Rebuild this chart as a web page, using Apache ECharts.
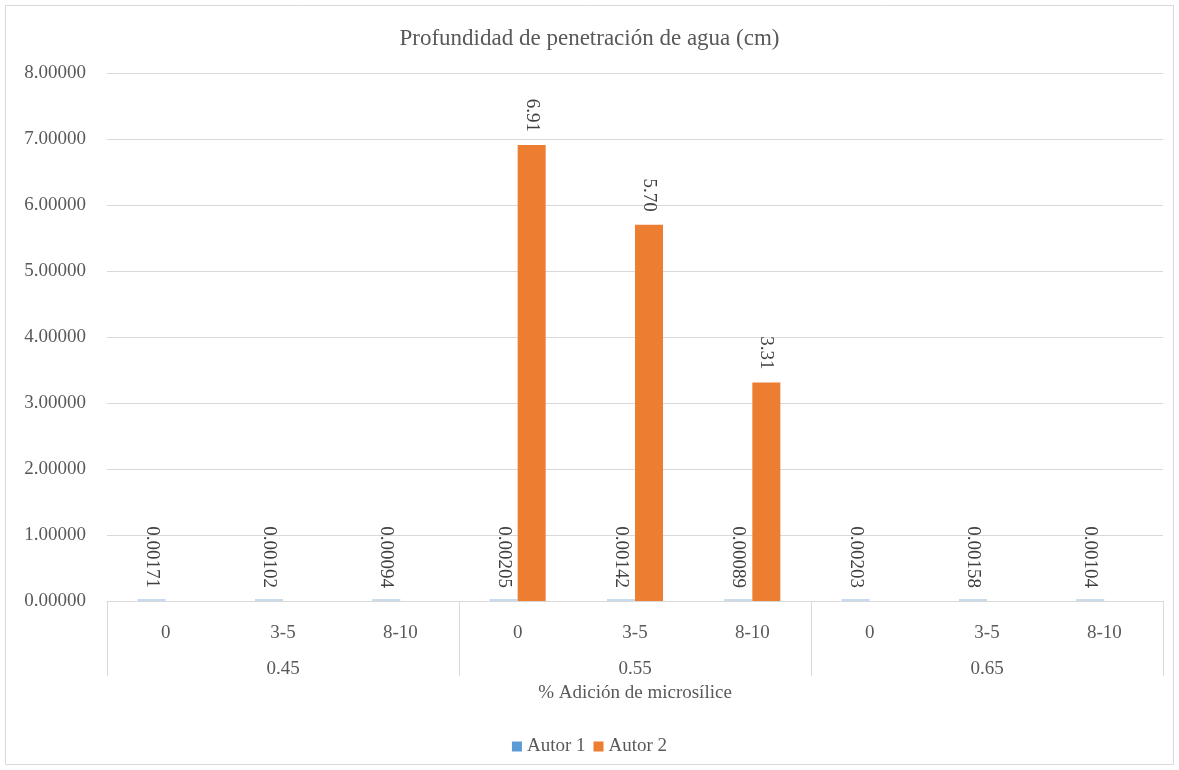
<!DOCTYPE html>
<html>
<head>
<meta charset="utf-8">
<script src="https://cdn.jsdelivr.net/npm/echarts@6/dist/echarts.min.js"></script>
<style>
html,body{margin:0;padding:0;background:#fff;}
#chart{width:1179px;height:770px;}
</style>
</head>
<body>
<div id="chart"></div>
<script>
const subCategories = ['0','3-5','8-10','0','3-5','8-10','0','3-5','8-10'];
const groupCategories = ['0.45','0.55','0.65'];
const autor1 = [0.00171,0.00102,0.00094,0.00205,0.00142,0.00089,0.00203,0.00158,0.00104];
const autor2 = [null,null,null,6.91,5.70,3.31,null,null,null];
const yTicks = {min:0,max:8,interval:1};

const font = 'Liberation Serif';
const txt = '#595959';
const fs = 19;
const chart = echarts.init(document.getElementById('chart'));
chart.setOption({
  animation:false,
  textStyle:{fontFamily:font},
  title:{text:'Profundidad de penetración de agua (cm)',left:'center',top:22,
    textStyle:{fontFamily:font,fontSize:23,fontWeight:'normal',color:txt}},
  graphic:[{type:'rect',shape:{x:5.5,y:5.5,width:1168,height:759},
    style:{fill:'none',stroke:'#d9d9d9',lineWidth:1},silent:true}],
  legend:{bottom:9,left:'center',icon:'rect',itemWidth:10,itemHeight:10,itemGap:8,
    textStyle:{fontFamily:font,fontSize:fs,color:txt},
    data:[{name:'Autor 1',itemStyle:{color:'#5B9BD5'}},{name:'Autor 2'}]},
  grid:{left:107,right:16,top:73,bottom:169},
  xAxis:[{
    type:'category',data:subCategories,position:'bottom',
    axisLine:{lineStyle:{color:'#d9d9d9'}},
    axisTick:{show:true,length:75,interval:function(i){return i%3===0;},lineStyle:{color:'#d9d9d9'}},
    axisLabel:{interval:0,color:txt,fontSize:fs,fontFamily:font,margin:23}
  },{
    type:'category',data:groupCategories,position:'bottom',offset:51,
    axisLine:{show:false},axisTick:{show:false},
    axisLabel:{interval:0,color:txt,fontSize:fs,fontFamily:font,margin:8},
    name:'% Adición de microsílice',nameLocation:'middle',nameGap:32,
    nameTextStyle:{color:txt,fontSize:fs,fontFamily:font}
  }],
  yAxis:{type:'value',min:yTicks.min,max:yTicks.max,interval:yTicks.interval,
    axisLine:{show:false},axisTick:{show:false},
    splitLine:{lineStyle:{color:'#d9d9d9'}},
    axisLabel:{color:txt,fontSize:fs,fontFamily:font,margin:21,formatter:function(v){return v.toFixed(5);}}},
  series:[{
    name:'Autor 1',type:'bar',data:autor1,xAxisIndex:0,barWidth:28,barGap:'0%',barMinHeight:2,
    itemStyle:{color:'#C8DAEE'},
    label:{show:true,position:'top',rotate:-90,align:'right',verticalAlign:'middle',distance:11,
      color:'#404040',fontSize:fs,fontFamily:font,formatter:function(p){return p.value.toFixed(5);}}
  },{
    name:'Autor 2',type:'bar',data:autor2,xAxisIndex:0,barWidth:28,barGap:'0%',
    itemStyle:{color:'#ED7D31'},
    label:{show:true,position:'top',rotate:-90,align:'right',verticalAlign:'middle',distance:13,
      color:'#404040',fontSize:fs,fontFamily:font,formatter:function(p){return p.value==null?'':p.value.toFixed(2);}}
  }]
});
</script>
</body>
</html>
